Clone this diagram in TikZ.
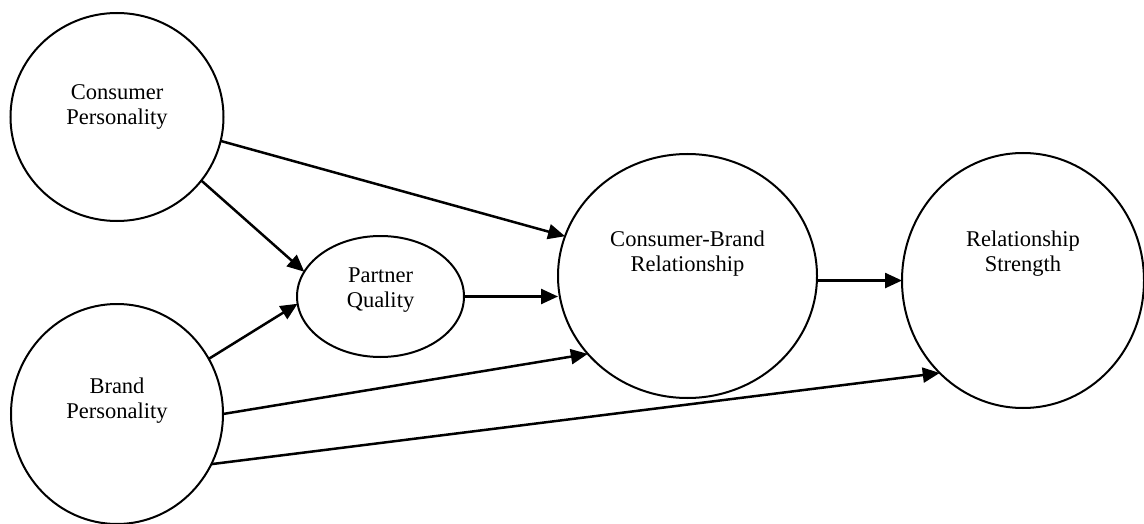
\documentclass[tikz,border=0pt]{standalone}
\usepackage{fontspec}
\setmainfont{Liberation Serif}
\usetikzlibrary{shapes.geometric,arrows.meta}
\begin{document}
\begin{tikzpicture}[x=1pt,y=-1pt,
  construct/.style={ellipse,draw,line width=2pt,inner sep=0pt,outer sep=0pt},
  lbl/.style={align=center,font=\fontsize{22.5}{25}\selectfont,inner sep=0pt},
  arr/.style={-{Triangle[length=17pt,width=15pt]},line width=2.5pt}]
\useasboundingbox (0,0) rectangle (1144,524);
\node[construct,minimum width=213pt,minimum height=208pt,
  label={[lbl,name=cpt,yshift=10.5pt]center:Consumer\\Personality}] (cp) at (117,117) {};
\node[construct,minimum width=212pt,minimum height=220pt,
  label={[lbl,name=bpt,yshift=13.5pt]center:Brand\\Personality}] (bp) at (117,414) {};
\node[construct,minimum width=167pt,minimum height=121pt,
  label={[lbl,name=pqt,yshift=6pt]center:Partner\\Quality}] (pq) at (380.5,296.5) {};
\node[construct,minimum width=259pt,minimum height=244pt,
  label={[lbl,name=cbrt,yshift=22pt]center:Consumer-Brand\\Relationship}] (cbr) at (687.5,276) {};
\node[construct,minimum width=242pt,minimum height=255pt,
  label={[lbl,name=rst,yshift=27pt]center:Relationship\\Strength}] (rs) at (1023,280.5) {};
\draw[arr] (cp.-13) -- (cbr.162);
\draw[arr] (cp.-37) -- (pq.162);
\draw[arr] (bp.31) -- (pq.-175);
\draw[arr] (pq.east) -- (pq.east -| cbr.west);
\draw[arr] (bp.east) -- (cbr.-142);
\draw[arr] (bp.-28) -- (rs.-132);
\draw[arr] (cbr.-2) -- (cbr.-2 -| rs.west);
\end{tikzpicture}
\end{document}
